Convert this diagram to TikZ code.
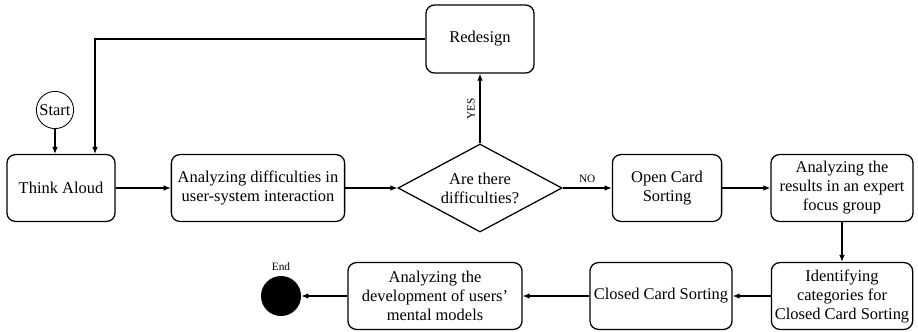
\documentclass[tikz,border=0pt]{standalone}
\usepackage{fontspec}
\setmainfont{Liberation Serif}
\usetikzlibrary{shapes.geometric,arrows.meta}

\begin{document}
\begin{tikzpicture}[x=0.025cm,y=-0.025cm,
	box/.style={draw, rounded corners=6pt, line width=0.9pt, align=center, minimum height=1.67cm, inner sep=1pt, font=\fontsize{11.7}{13.5}\selectfont},
	decision/.style={draw, diamond, aspect=2, line width=0.9pt, align=center, minimum width=4.1cm, minimum height=2.2cm, inner sep=0pt, font=\fontsize{11.7}{13.5}\selectfont},
	flow/.style={line width=0.9pt, -{Latex[length=5pt,width=4pt]}},
	small/.style={font=\fontsize{8}{9}\selectfont}]

\useasboundingbox (0,0) rectangle (918,331);

% top row
\node[circle, draw, line width=0.6pt, minimum size=0.93cm, inner sep=0pt, font=\fontsize{11.7}{13.5}\selectfont] (start) at (55,110) {Start};
\node[box, minimum width=2.7cm] (think) at (61,188) {Think Aloud};
\node[box, minimum width=4.33cm] (anadiff) at (258,188) {Analyzing difficulties in\\user-system interaction};
\node[decision] (question) at (480,188) {Are there\\difficulties?};
\node[box, minimum width=2.7cm, minimum height=1.7cm] (redesign) at (480,39) {Redesign};
\node[box, minimum width=2.73cm] (opensort) at (667,188) {Open Card\\Sorting};
\node[box, minimum width=3.55cm] (results) at (842,188) {Analyzing the\\results in an expert\\focus group};

% bottom row
\node[box, minimum width=3.53cm] (identify) at (842,296) {Identifying\\categories for\\Closed Card Sorting};
\node[box, minimum width=3.55cm] (closed) at (661,296) {Closed Card Sorting};
\node[box, minimum width=4.35cm] (mental) at (435,296) {Analyzing the\\development of users'\\mental models};
\node[circle, fill=black, minimum size=1cm, inner sep=0pt, label={[small]above:End}] (end) at (281,296) {};

\draw[flow] (start) -- (start |- think.north);
\draw[flow] (redesign.west) -| ([xshift=0.85cm]think.north);
\draw[flow] (think) -- (anadiff);
\draw[flow] (anadiff) -- (question);
\draw[flow] (question) -- node[small, rotate=90, anchor=south] {YES} (redesign);
\draw[flow] (question) -- node[small, above] {NO} (opensort);
\draw[flow] (opensort) -- (results);
\draw[flow] (results) -- (identify);
\draw[flow] (identify) -- (closed);
\draw[flow] (closed) -- (mental);
\draw[flow] (mental) -- (end);

\end{tikzpicture}
\end{document}
